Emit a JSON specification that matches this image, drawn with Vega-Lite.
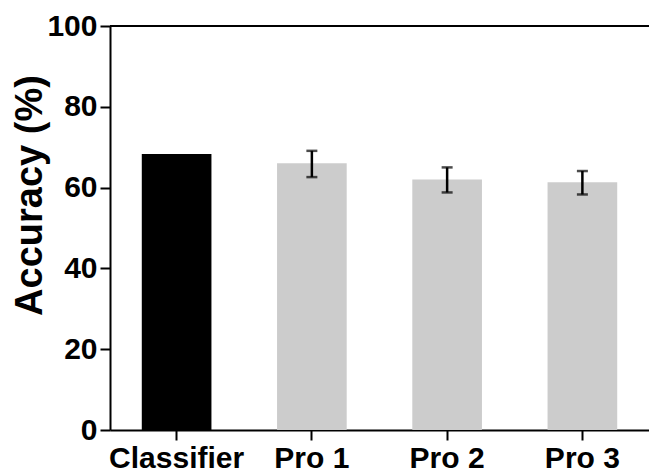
{
  "$schema": "https://vega.github.io/schema/vega-lite/v6.json",
  "width": 539,
  "height": 404,
  "autosize": {"type": "none"},
  "padding": {"left": 110, "top": 26, "right": 0, "bottom": 44},
  "background": "white",
  "config": {
    "view": {"stroke": null},
    "font": "Liberation Sans",
    "axis": {
      "domainColor": "#000000",
      "domainWidth": 2,
      "tickColor": "#000000",
      "tickWidth": 2,
      "tickSize": 10,
      "labelFont": "Liberation Sans",
      "labelFontWeight": "bold",
      "labelFontSize": 30,
      "labelColor": "#000000",
      "titleFont": "Liberation Sans",
      "titleFontWeight": "bold",
      "titleColor": "#000000",
      "grid": false
    }
  },
  "data": {
    "values": [
      {"group": "Classifier", "acc": 68.3, "lo": null, "hi": null, "kind": "classifier"},
      {"group": "Pro 1", "acc": 66.0, "lo": 62.6, "hi": 69.1, "kind": "pro"},
      {"group": "Pro 2", "acc": 62.0, "lo": 58.8, "hi": 65.0, "kind": "pro"},
      {"group": "Pro 3", "acc": 61.3, "lo": 58.3, "hi": 64.1, "kind": "pro"}
    ]
  },
  "encoding": {
    "x": {
      "field": "group",
      "type": "nominal",
      "sort": null,
      "scale": {"paddingInner": 0.485, "paddingOuter": 0.235},
      "axis": {"title": null, "labelAngle": 0, "labelPadding": 3}
    }
  },
  "layer": [
    {
      "mark": {"type": "bar"},
      "encoding": {
        "y": {
          "field": "acc",
          "type": "quantitative",
          "scale": {"domain": [0, 100], "nice": false, "zero": true},
          "axis": {"title": "Accuracy (%)", "titleFontSize": 38, "titlePadding": -3, "titleY": 169, "values": [0, 20, 40, 60, 80, 100], "labelPadding": 3}
        },
        "color": {
          "field": "kind",
          "type": "nominal",
          "scale": {"domain": ["classifier", "pro"], "range": ["#000000", "#cccccc"]},
          "legend": null
        }
      }
    },
    {
      "transform": [{"filter": "datum.lo != null"}],
      "mark": {"type": "rule", "color": "#000000", "strokeWidth": 2.5},
      "encoding": {
        "y": {"field": "lo", "type": "quantitative"},
        "y2": {"field": "hi"}
      }
    },
    {
      "transform": [{"filter": "datum.lo != null"}],
      "mark": {"type": "tick", "color": "#000000", "thickness": 2.5, "size": 11, "orient": "horizontal"},
      "encoding": {
        "y": {"field": "lo", "type": "quantitative"}
      }
    },
    {
      "transform": [{"filter": "datum.lo != null"}],
      "mark": {"type": "tick", "color": "#000000", "thickness": 2.5, "size": 11, "orient": "horizontal"},
      "encoding": {
        "y": {"field": "hi", "type": "quantitative"}
      }
    },
    {
      "data": {"values": [{"top": 100}]},
      "mark": {"type": "rule", "color": "#000000", "strokeWidth": 2},
      "encoding": {
        "x": null,
        "y": {"field": "top", "type": "quantitative"}
      }
    }
  ]
}
